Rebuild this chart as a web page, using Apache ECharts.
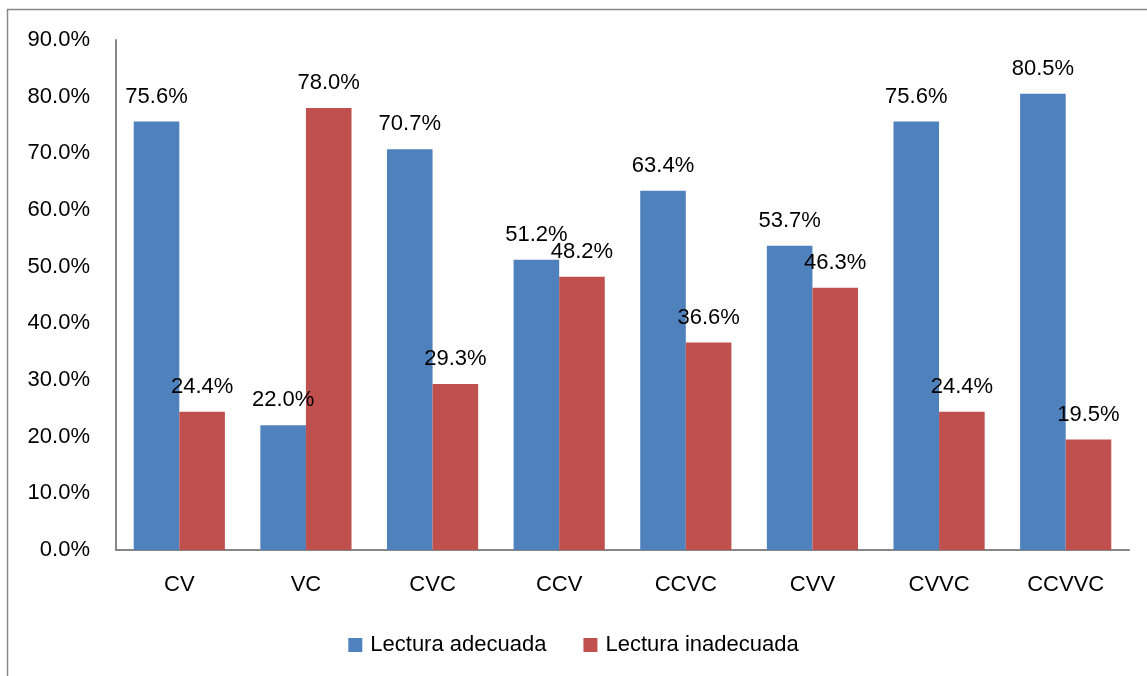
<!DOCTYPE html>
<html lang="es">
<head>
    <meta charset="UTF-8">
    <title>Lectura</title>
    <script src="https://cdn.jsdelivr.net/npm/echarts@6/dist/echarts.min.js"></script>
    <style>
        html, body { margin: 0; padding: 0; background: #fff; }
        #main { width: 1147px; height: 676px; }
    </style>
</head>
<body>
<div id="main"></div>
<script>
    // datos
    var categorias = ['CV', 'VC', 'CVC', 'CCV', 'CCVC', 'CVV', 'CVVC', 'CCVVC'];
    var adecuada = [75.6, 22.0, 70.7, 51.2, 63.4, 53.7, 75.6, 80.5];
    var inadecuada = [24.4, 78.0, 29.3, 48.2, 36.6, 46.3, 24.4, 19.5];
    var nombres = ['Lectura adecuada', 'Lectura inadecuada'];

    var fuente = 'Liberation Sans';
    var myChart = echarts.init(document.getElementById('main'));

    var etiqueta = {
        show: true,
        position: 'top',
        distance: 14,
        color: '#000',
        fontFamily: fuente,
        fontSize: 22,
        formatter: function (p) { return p.value.toFixed(1) + '%'; }
    };

    var option = {
        animation: false,
        textStyle: { fontFamily: fuente },
        graphic: [{
            type: 'rect',
            shape: { x: 7.5, y: 9.5, width: 1200, height: 700 },
            style: { fill: 'none', stroke: '#898989', lineWidth: 1.5 },
            silent: true
        }],
        grid: { left: 116, right: 18, top: 40, bottom: 126 },
        legend: {
            data: nombres,
            top: 629,
            left: 'center',
            itemWidth: 14,
            itemHeight: 14,
            itemGap: 37,
            icon: 'rect',
            textStyle: { fontSize: 22, color: '#000', fontFamily: fuente, padding: [0, 0, 0, 3] }
        },
        xAxis: {
            type: 'category',
            data: categorias,
            axisLine: { lineStyle: { color: '#868686', width: 2 } },
            axisTick: { show: false },
            axisLabel: { color: '#000', fontSize: 22, margin: 24, fontFamily: fuente }
        },
        yAxis: {
            type: 'value',
            min: 0,
            max: 90,
            interval: 10,
            axisLine: { show: true, lineStyle: { color: '#868686', width: 2 } },
            axisTick: { show: false },
            splitLine: { show: false },
            axisLabel: {
                color: '#000', fontSize: 22, margin: 26, fontFamily: fuente,
                formatter: function (v) { return v.toFixed(1) + '%'; }
            }
        },
        series: [
            {
                name: nombres[0],
                type: 'bar',
                data: adecuada,
                barGap: '0%',
                barCategoryGap: '28%',
                itemStyle: { color: '#4F81BD' },
                label: etiqueta
            },
            {
                name: nombres[1],
                type: 'bar',
                data: inadecuada,
                itemStyle: { color: '#C0504D' },
                label: etiqueta
            }
        ]
    };

    myChart.setOption(option);
</script>
</body>
</html>
